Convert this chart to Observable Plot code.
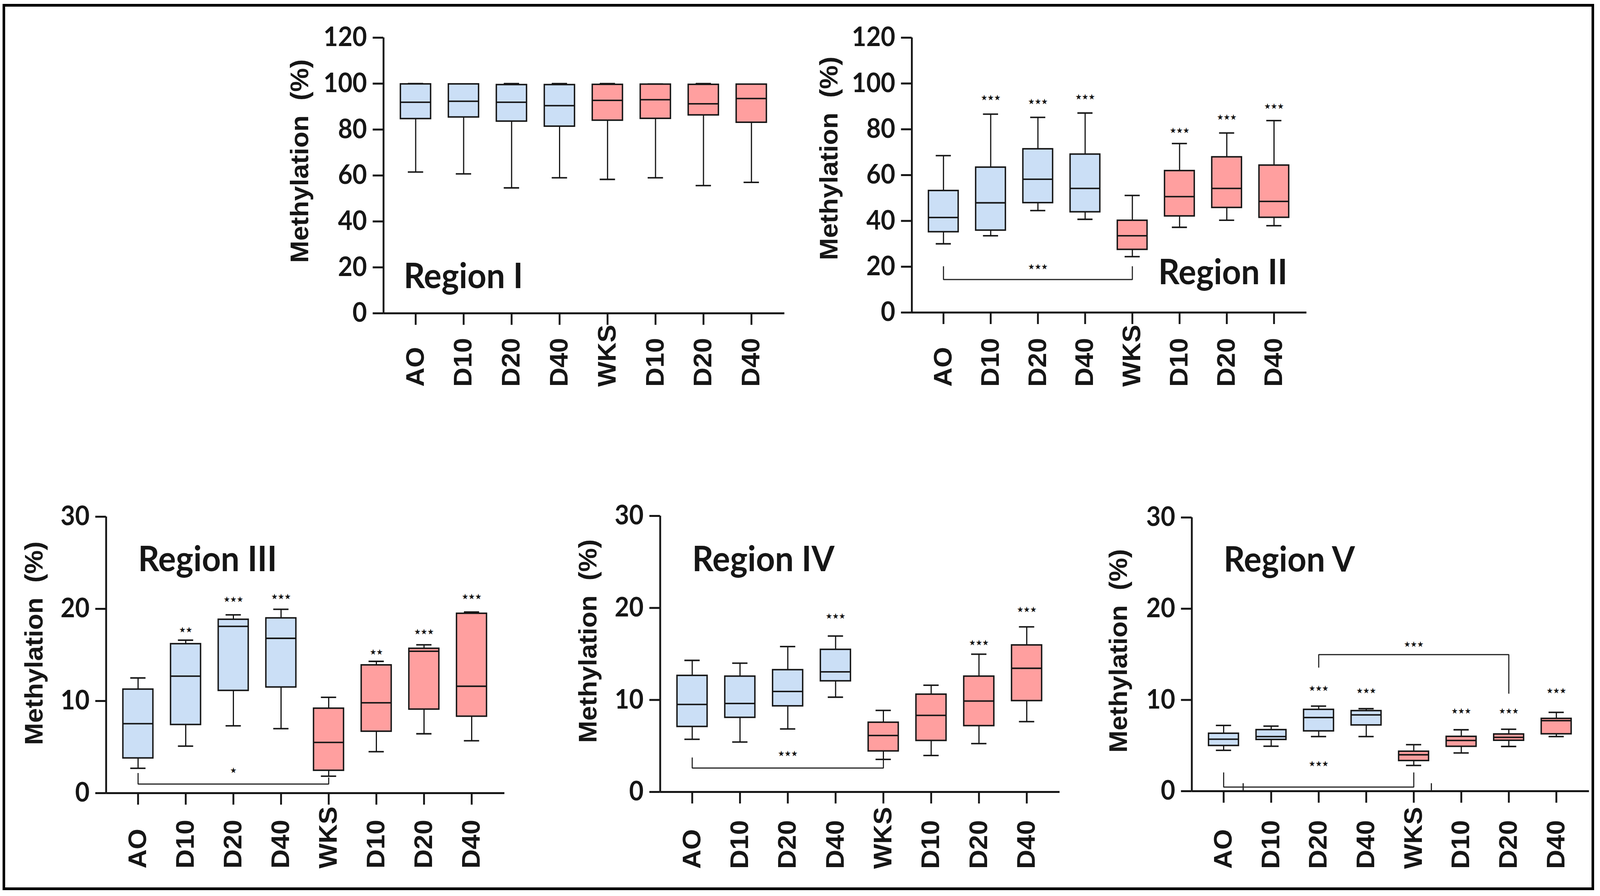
<!DOCTYPE html>
<html><head><meta charset="utf-8">
<script src="https://cdn.jsdelivr.net/npm/d3@7"></script>
<script src="https://cdn.jsdelivr.net/npm/@observablehq/plot@0.6"></script>
<style>
html,body{margin:0;padding:0;background:#fff;overflow:hidden;}
#page{position:relative;width:4349px;height:2295px;overflow:hidden;background:#fff;transform-origin:0 0;}
#page svg{position:absolute;left:0;top:0;max-width:none !important;}
#border{position:absolute;left:7px;top:10px;width:4326px;height:2270px;box-sizing:border-box;border:7px solid #000;}
</style></head>
<body><div id="page"><div id="border"></div></div>
<script>
// ---------- data ----------
const groups = ["AO","D10","D20","D40","WKS","D10","D20","D40"];
const series = ["Control","Control","Control","Control","WKS","WKS","WKS","WKS"];
const seriesDomain = ["Control","WKS"];
const seriesColors = ["#cbdff6","#ff9f9f"];

const ticks120 = [0,20,40,60,80,100,120];
const ticks30 = [0,10,20,30];

// Region I
const r1Max = [100, 99.8, 100, 100, 100, 99.8, 100, 99.7];
const r1Q3  = [99.8, 99.8, 99.5, 99.5, 99.6, 99.7, 99.6, 99.7];
const r1Med = [91.9, 92.3, 91.9, 90.4, 92.7, 93.0, 91.2, 93.5];
const r1Q1  = [84.7, 85.4, 83.6, 81.4, 84.0, 84.8, 86.3, 83.1];
const r1Min = [61.5, 60.7, 54.6, 59.0, 58.3, 59.0, 55.6, 57.0];

// Region II
const r2Max = [68.5, 86.6, 85.2, 87.1, 51.1, 73.8, 78.4, 83.8];
const r2Q3  = [53.2, 63.4, 71.4, 69.1, 40.2, 61.9, 67.9, 64.3];
const r2Med = [41.5, 47.9, 58.2, 54.2, 33.5, 50.6, 54.2, 48.5];
const r2Q1  = [35.2, 35.9, 47.9, 43.9, 27.5, 42.1, 45.8, 41.5];
const r2Min = [30.0, 33.5, 44.5, 40.7, 24.4, 37.2, 40.3, 37.9];
const r2StarX = [1, 2, 3, 5, 6, 7];
const r2StarY = [93.8, 92.0, 94.0, 79.5, 85.2, 90.0];
const r2StarT = ["***","***","***","***","***","***"];
const r2Brackets = [[0, 4, 14.4, 20.2, 20.2, "***", 2, 20.0]];

// Region III
const r3Max = [12.5, 16.6, 19.35, 19.95, 10.4, 14.3, 16.1, 19.65];
const r3Q3  = [11.27, 16.2, 18.85, 19.0, 9.2, 13.9, 15.7, 19.5];
const r3Med = [7.54, 12.7, 18.1, 16.8, 5.5, 9.8, 15.4, 11.6];
const r3Q1  = [3.8, 7.43, 11.13, 11.5, 2.46, 6.7, 9.1, 8.33];
const r3Min = [2.7, 5.1, 7.3, 7.0, 1.84, 4.5, 6.44, 5.68];
const r3StarX = [1, 2, 3, 5, 6, 7];
const r3StarY = [17.7, 21.0, 21.3, 15.3, 17.5, 21.3];
const r3StarT = ["**","***","***","**","***","***"];
const r3Brackets = [[0, 4, 0.99, 2.18, 1.7, "*", 2, 2.46]];

// Region IV
const r4Max = [14.3, 14.0, 15.8, 16.95, 8.86, 11.6, 14.97, 17.94];
const r4Q3  = [12.65, 12.57, 13.27, 15.48, 7.56, 10.61, 12.57, 15.96];
const r4Med = [9.51, 9.62, 10.92, 13.05, 6.14, 8.32, 9.88, 13.44];
const r4Q1  = [7.10, 8.09, 9.34, 12.06, 4.44, 5.58, 7.19, 9.91];
const r4Min = [5.72, 5.43, 6.85, 10.30, 3.54, 3.96, 5.26, 7.64];
const r4StarX = [3, 6, 7];
const r4StarY = [19.1, 16.2, 19.8];
const r4StarT = ["***","***","***"];
const r4Brackets = [[0, 4, 2.60, 3.74, 3.54, "***", 2, 4.16]];

// Region V
const r5Max = [7.21, 7.13, 9.32, 9.04, 5.10, 6.73, 6.79, 8.64];
const r5Q3  = [6.33, 6.73, 8.95, 8.81, 4.36, 5.99, 6.25, 7.96];
const r5Med = [5.70, 5.99, 8.07, 8.36, 3.99, 5.56, 5.90, 7.73];
const r5Q1  = [4.99, 5.65, 6.59, 7.24, 3.34, 4.90, 5.56, 6.27];
const r5Min = [4.48, 4.93, 5.99, 5.99, 2.82, 4.19, 4.90, 5.99];
const r5StarX = [2, 3, 5, 6, 7];
const r5StarY = [11.26, 10.98, 8.75, 8.75, 10.98];
const r5StarT = ["***","***","***","***","***"];
const r5Brackets = [[0, 4, 0.45, 2.05, 2.05, "***", 2, 2.99], [2, 6, 14.97, 13.55, 10.69, "***", 4, 16.1]];
const r5MarkX = [0.41, 4.37];
const r5MarkTop = 0.85;

// ---------- layout ----------
const W = 4349, H = 2295;
const panels = [
  {name:"Region I",  max:r1Max,q3:r1Q3,med:r1Med,q1:r1Q1,min:r1Min, yMax:120, ticks:ticks120,
   frame:[1042,2132,96,802], title:[-227,-37], labDy:188, lab:[-0.25,15.9],
   sx:[], sy:[], st:[], br:[], marks:[]},
  {name:"Region II", max:r2Max,q3:r2Q3,med:r2Med,q1:r2Q1,min:r2Min, yMax:120, ticks:ticks120,
   frame:[2478,3551,96,800], title:[-224,-43], labDy:190, lab:[4.55,17.2],
   sx:r2StarX, sy:r2StarY, st:r2StarT, br:r2Brackets, marks:[]},
  {name:"Region III",max:r3Max,q3:r3Q3,med:r3Med,q1:r3Q1,min:r3Min, yMax:30, ticks:ticks30,
   frame:[288,1371,1323,2031], title:[-195,-30], labDy:193, lab:[0,25.3],
   sx:r3StarX, sy:r3StarY, st:r3StarT, br:r3Brackets, marks:[]},
  {name:"Region IV", max:r4Max,q3:r4Q3,med:r4Med,q1:r4Q1,min:r4Min, yMax:30, ticks:ticks30,
   frame:[1794,2880,1321,2028], title:[-195,-33], labDy:197, lab:[0,25.2],
   sx:r4StarX, sy:r4StarY, st:r4StarT, br:r4Brackets, marks:[]},
  {name:"Region V",  max:r5Max,q3:r5Q3,med:r5Med,q1:r5Q1,min:r5Min, yMax:30, ticks:ticks30,
   frame:[3239,4319,1325,2026], title:[-198,-9], labDy:199, lab:[0,25.3],
   sx:r5StarX, sy:r5StarY, st:r5StarT, br:r5Brackets, marks:r5MarkX}
];

const INK = "#161616";
const BOXW = 0.315, CAPW = 0.16;
const XMIN = -0.67, XMAX = 7.69;
const ARIAL = "'Liberation Sans', Arial, sans-serif";
const LATO = "Lato, 'Open Sans', sans-serif";
const STAR = "'DejaVu Sans', sans-serif";
const starGlyph = t => t.replace(/\*/g, "\u2605");

function panel(p) {
  const idx = d3.range(groups.length);
  const rows = idx.map(i => ({i, s: series[i], min: p.min[i], q1: p.q1[i], med: p.med[i], q3: p.q3[i], max: p.max[i]}));
  const stars = p.sx.map((x, k) => ({x, y: p.sy[k], t: p.st[k]}));
  const brPts = [];
  const brLab = [];
  p.br.forEach((b, k) => {
    const [from, to, level, le, re, t, tx, ty] = b;
    brPts.push({k, x: from, y: le}, {k, x: from, y: level}, {k, x: to, y: level}, {k, x: to, y: re});
    brLab.push({x: tx, y: ty, t});
  });
  const [L, R, T, B] = p.frame;
  return Plot.plot({
    width: W, height: H,
    marginLeft: L, marginRight: W - R, marginTop: T, marginBottom: H - B,
    x: {type: "linear", domain: [XMIN, XMAX]},
    y: {domain: [0, p.yMax]},
    color: {domain: seriesDomain, range: seriesColors},
    style: {background: "transparent", fontFamily: LATO, fontWeight: "bold", color: INK, overflow: "visible"},
    marks: [
      Plot.axisY({ticks: p.ticks, tickSize: 29, tickPadding: 16, fontSize: 68, strokeWidth: 5, label: null, fontFamily: LATO}),
      Plot.axisX({ticks: idx, tickSize: 30, tickFormat: () => "", strokeWidth: 5, label: null}),
      Plot.ruleY([0], {strokeWidth: 5, stroke: INK}),
      Plot.ruleX([XMIN], {strokeWidth: 5, stroke: INK}),
      Plot.ruleX(p.marks, {x: d => d, y1: 0, y2: p.marks.length ? r5MarkTop : 0, strokeWidth: 3, stroke: INK}),
      // whiskers & caps
      Plot.ruleX(rows, {x: "i", y1: "min", y2: "max", stroke: INK, strokeWidth: 3.2}),
      Plot.ruleY(rows, {y: "max", x1: d => d.i - CAPW, x2: d => d.i + CAPW, stroke: INK, strokeWidth: 3.8}),
      Plot.ruleY(rows, {y: "min", x1: d => d.i - CAPW, x2: d => d.i + CAPW, stroke: INK, strokeWidth: 3.8}),
      // boxes
      Plot.rect(rows, {x1: d => d.i - BOXW, x2: d => d.i + BOXW, y1: "q1", y2: "q3", fill: "s", stroke: INK, strokeWidth: 3.8}),
      Plot.ruleY(rows, {y: "med", x1: d => d.i - BOXW, x2: d => d.i + BOXW, stroke: INK, strokeWidth: 3.8}),
      // brackets
      Plot.line(brPts, {x: "x", y: "y", z: "k", stroke: "#222", strokeWidth: 3, strokeLinejoin: "miter", strokeLinecap: "butt"}),
      Plot.text(brLab, {x: "x", y: "y", text: d => starGlyph(d.t), fontSize: 20, fontFamily: STAR, fontWeight: "normal", lineAnchor: "middle", fill: INK}),
      // significance
      Plot.text(stars, {x: "x", y: "y", text: d => starGlyph(d.t), fontSize: 20, fontFamily: STAR, fontWeight: "normal", lineAnchor: "middle", fill: INK}),
      // x labels (rotated, bottom aligned)
      Plot.text(idx, {x: d => d, text: d => groups[d], frameAnchor: "bottom", dy: p.labDy, rotate: -90,
        textAnchor: "start", lineAnchor: "middle", fontSize: 68, fontFamily: ARIAL, fontWeight: "bold", fill: INK}),
      // y title
      Plot.text(["Methylation\u00a0 (%)"], {text: d => d, frameAnchor: "left", dx: p.title[0], dy: p.title[1], rotate: -90,
        textAnchor: "middle", lineAnchor: "middle", fontSize: 68, fontFamily: ARIAL, fontWeight: "bold", fill: INK}),
      // region label
      Plot.text([p.name], {x: p.lab[0], y: p.lab[1], text: d => d, textAnchor: "start", lineAnchor: "middle",
        fontSize: 90, fontFamily: LATO, fontWeight: "bold", fill: INK})
    ]
  });
}

const page = document.getElementById("page");
panels.forEach(p => page.appendChild(panel(p)));

// stretch the 4349x2295 page onto the actual viewport when it differs
function fit() {
  const vw = document.documentElement.clientWidth || window.innerWidth;
  const vh = document.documentElement.clientHeight || window.innerHeight;
  const sx = Math.min(vw / W, 1), sy = Math.min(vh / H, 1);
  page.style.transform = (sx < 1 || sy < 1) ? `scale(${sx}, ${sy})` : "";
}
fit();
window.addEventListener("resize", fit);
</script>
</body></html>
